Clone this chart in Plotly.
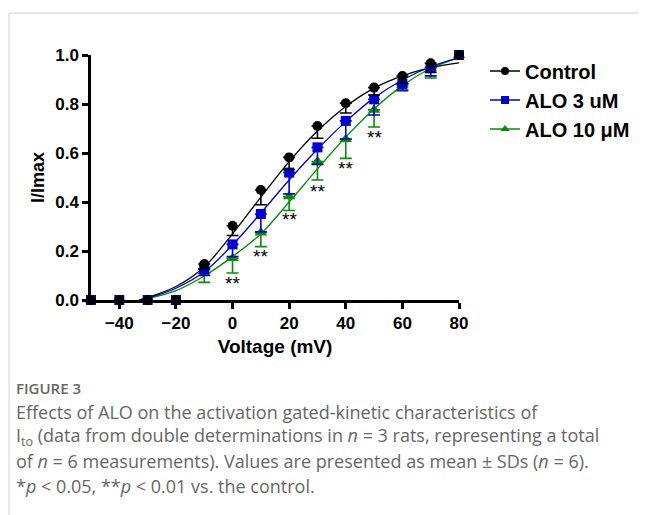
import plotly.graph_objects as go

# ---------------- data ----------------
voltage = [-50, -40, -30, -20, -10, 0, 10, 20, 30, 40, 50, 60, 70, 80]
control = [0, 0, 0, 0, 0.147, 0.303, 0.449, 0.582, 0.710, 0.803, 0.867, 0.914, 0.966, 1.0]
alo3 = [0, 0, 0, 0, 0.125, 0.227, 0.351, 0.520, 0.623, 0.731, 0.819, 0.882, 0.950, 1.0]
alo10 = [0, 0, 0, 0, 0.109, 0.170, 0.275, 0.422, 0.565, 0.656, 0.776, 0.878, 0.946, 1.0]
control_sd = [0, 0, 0, 0, 0.02, 0.04, 0.06, 0.05, 0.05, 0.04, 0.03, 0.03, 0.037, 0]
alo3_sd = [0, 0, 0, 0, 0.025, 0.05, 0.073, 0.087, 0.07, 0.074, 0.064, 0.025, 0.035, 0]
alo10_sd = [0, 0, 0, 0, 0.037, 0.06, 0.057, 0.057, 0.075, 0.078, 0.07, 0.025, 0.04, 0]

# fitted curves
fit_v = [-33, -30, -20, -10, 0, 10, 20, 30, 40, 50, 60, 70, 80]
fit_control = [0, 0.01, 0.055, 0.135, 0.27, 0.42, 0.565, 0.69, 0.79, 0.865, 0.915, 0.948, 0.968]
fit_alo3 = [0, 0.008, 0.048, 0.115, 0.225, 0.355, 0.49, 0.615, 0.728, 0.825, 0.898, 0.952, 0.988]
fit_alo10 = [0, 0.006, 0.038, 0.098, 0.177, 0.27, 0.40, 0.535, 0.665, 0.78, 0.875, 0.945, 0.99]

# significance marks
sig_v = [0, 10, 20, 30, 40, 50]
sig_y = [0.086, 0.197, 0.347, 0.462, 0.558, 0.683]
sig_text = ["**"] * 6

x_ticks = [-40, -20, 0, 20, 40, 60, 80]
y_ticks = [0, 0.2, 0.4, 0.6, 0.8, 1.0]

series = [
    ("Control", control, control_sd, fit_control, "#000000", "circle"),
    ("ALO 3 uM", alo3, alo3_sd, fit_alo3, "#0000cc", "square"),
    ("ALO 10 \u03bcM", alo10, alo10_sd, fit_alo10, "#0a8a0a", "triangle-up"),
]

# ---------------- layout geometry ----------------
OFF = 8  # page body margin
W, H = 646 - OFF, 515 - OFF
L, R, T, B = 91 - OFF, 459 - OFF, 55 - OFF, 300 - OFF
ML, MR, MT, MB = L, W - R, T, H - B


def px2x(px):
    return (px - OFF - L) / (R - L)


def py2y(py):
    return (B - (py - OFF)) / (B - T)


FONT = "Arial, Liberation Sans, sans-serif"
fig = go.Figure()

# fitted curves
for name, vals, sd, fit, col, sym in reversed(series):
    fig.add_trace(go.Scatter(x=fit_v, y=fit, mode="lines", line=dict(color=col, width=1.3, shape="spline", smoothing=1.0),
                             showlegend=False, hoverinfo="skip", cliponaxis=False))

# data points with one-sided error bars
for name, vals, sd, fit, col, sym in reversed(series):
    idx = [i for i, s in enumerate(sd) if s > 0]
    fig.add_trace(go.Scatter(
        x=[voltage[i] for i in idx], y=[vals[i] for i in idx], mode="markers",
        marker=dict(size=1, color="rgba(0,0,0,0)"),
        error_y=dict(type="data", symmetric=False, array=[0] * len(idx), arrayminus=[sd[i] for i in idx],
                     color=col, thickness=1.6, width=6),
        showlegend=False, hoverinfo="skip", cliponaxis=False))
    fig.add_trace(go.Scatter(
        x=voltage, y=vals, mode="markers",
        marker=dict(symbol=sym, size=10 if sym != "triangle-up" else 11, color=col, line=dict(width=0)),
        showlegend=False, cliponaxis=False))

# legend entries
for k, (name, vals, sd, fit, col, sym) in enumerate(series):
    fig.add_trace(go.Scatter(x=[None], y=[None], mode="lines+markers", name="<b>" + name + "</b>",
                             legendgroup=str(k),
                             line=dict(color=col, width=1.5),
                             marker=dict(symbol=sym, size=8, color=col)))

annotations = []
for v, y, t in zip(sig_v, sig_y, sig_text):
    annotations.append(dict(x=v, y=y, text=t, showarrow=False, xref="x", yref="y", yshift=-5,
                            font=dict(family=FONT, size=19, color="#000"), yanchor="middle"))

CAP_FONT = "Open Sans, Noto Sans, sans-serif"
cap_col = "#666666"
annotations.append(dict(x=px2x(14), y=py2y(388), xref="paper", yref="paper", text="FIGURE 3", showarrow=False,
                        xanchor="left", yanchor="middle",
                        font=dict(family=CAP_FONT, size=15, color=cap_col, weight=600)))
cap_lines = [
    "Effects of ALO on the activation gated-kinetic characteristics of",
    "I<sub>to</sub> (data from double determinations in <i>n</i> = 3 rats, representing a total",
    "of <i>n</i> = 6 measurements). Values are presented as mean \u00b1 SDs (<i>n</i> = 6).",
    "*<i>p</i> &lt; 0.05, **<i>p</i> &lt; 0.01 vs. the control.",
]
for i, line in enumerate(cap_lines):
    annotations.append(dict(x=px2x(14), y=py2y(412 + 24.5 * i), xref="paper", yref="paper", text=line,
                            showarrow=False, xanchor="left", yanchor="middle",
                            font=dict(family=CAP_FONT, size=18, color=cap_col)))

shapes = [
    dict(type="line", xref="paper", yref="paper", x0=px2x(9), x1=px2x(646), y0=py2y(13), y1=py2y(13),
         line=dict(color="#d0d0d0", width=1)),
    dict(type="line", xref="paper", yref="paper", x0=px2x(9), x1=px2x(9), y0=py2y(13), y1=py2y(515),
         line=dict(color="#d0d0d0", width=1)),
]

fig.update_layout(
    width=W, height=H,
    margin=dict(l=ML, r=MR, t=MT, b=MB, autoexpand=False),
    paper_bgcolor="white", plot_bgcolor="white",
    showlegend=True,
    legend=dict(x=px2x(485), y=py2y(51.5), xanchor="left", yanchor="top",
                font=dict(family=FONT, size=20, color="#000"),
                tracegroupgap=0, bgcolor="rgba(0,0,0,0)"),
    annotations=annotations, shapes=shapes,
    font=dict(family=FONT),
)
fig.update_xaxes(range=[-50, 80], tickvals=x_ticks, showgrid=False, zeroline=False,
                 showline=True, linecolor="black", linewidth=2.5, ticks="outside", ticklen=6,
                 tickwidth=2.5, tickcolor="black",
                 tickfont=dict(family=FONT, size=17, color="black", weight="bold"),
                 title=dict(text="<b>Voltage (mV)</b>", font=dict(family=FONT, size=19, color="black"), standoff=8))
fig.update_yaxes(range=[0, 1.0], tickvals=y_ticks, tickformat=".1f", showgrid=False, zeroline=False,
                 showline=True, linecolor="black", linewidth=2.5, ticks="outside", ticklen=6,
                 tickwidth=2.5, tickcolor="black",
                 tickfont=dict(family=FONT, size=17, color="black", weight="bold"),
                 title=dict(text="<b>I/Imax</b>", font=dict(family=FONT, size=18, color="black"), standoff=6))

fig.write_html("out.html")
